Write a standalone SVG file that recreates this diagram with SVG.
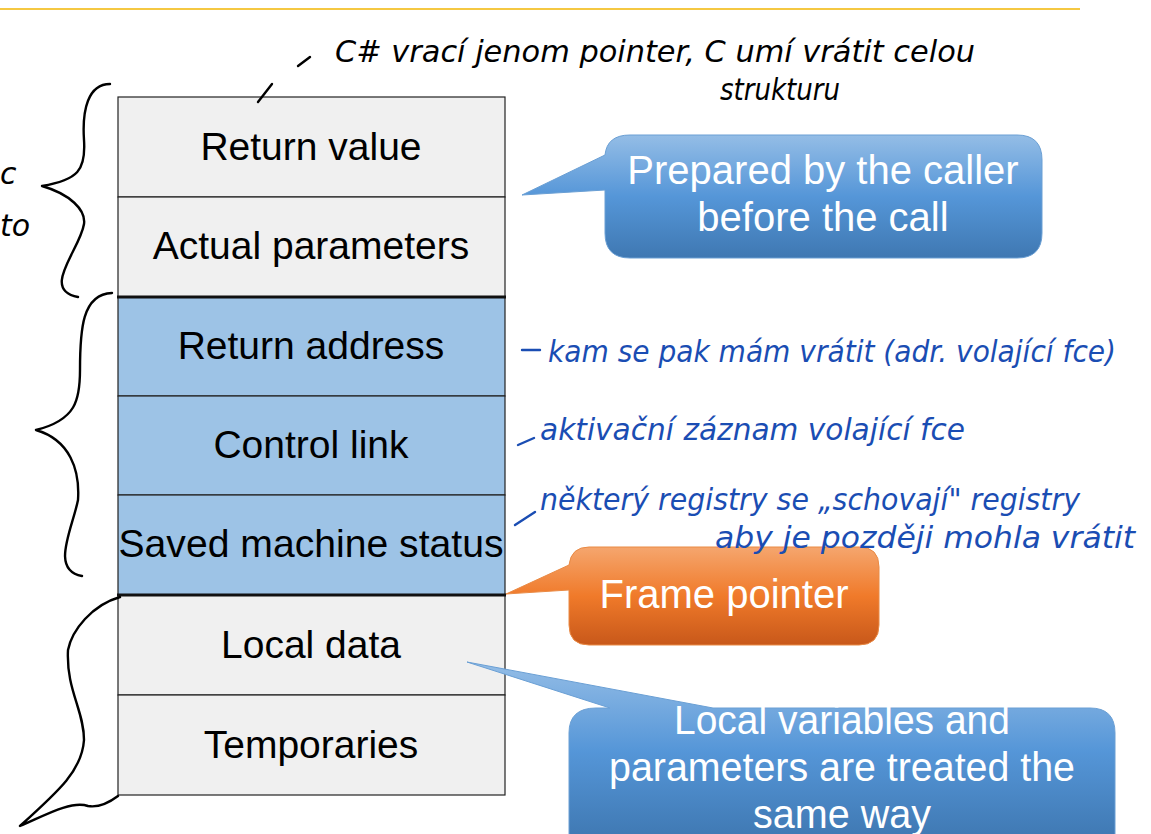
<svg xmlns="http://www.w3.org/2000/svg" width="1151" height="834" viewBox="0 0 1151 834">
  <defs>
    <linearGradient id="gBlue" x1="0" y1="0" x2="0" y2="1">
      <stop offset="0" stop-color="#94bde6"/>
      <stop offset="0.5" stop-color="#5596d8"/>
      <stop offset="1" stop-color="#3f78b2"/>
    </linearGradient>
    <linearGradient id="gOrange" x1="0" y1="0" x2="0" y2="1">
      <stop offset="0" stop-color="#f5a66e"/>
      <stop offset="0.5" stop-color="#f07a2a"/>
      <stop offset="1" stop-color="#c8581a"/>
    </linearGradient>
    <style>
      .cell { fill: #f0f0f0; stroke: #222; stroke-width: 1.2; }
      .cell.ctl { fill: #9dc3e6; }
      .sep { stroke: #111; stroke-width: 3; }
      .lbl { font-family: "Liberation Sans", Arial, sans-serif; font-size: 39px; fill: #000; text-anchor: middle; }
      .co { font-family: "Liberation Sans", Arial, sans-serif; font-size: 40px; fill: #fff; text-anchor: middle; }
      .blueCo { fill: url(#gBlue); stroke: #6a9fd4; stroke-width: 1; }
      .orangeCo { fill: url(#gOrange); stroke: #e98a45; stroke-width: 1; }
      .hand { font-family: "DejaVu Sans", sans-serif; font-style: italic; font-size: 30px; }
      .ink { fill: none; stroke: #000; stroke-width: 2.4; stroke-linecap: round; stroke-linejoin: round; }
      .bink { fill: none; stroke: #1a4db3; stroke-width: 2.4; stroke-linecap: round; }
    </style>
  </defs>

  <rect width="1151" height="834" fill="#fff"/>
  <!-- header rule -->
  <line x1="0" y1="9" x2="1080" y2="9" stroke="#f5c842" stroke-width="2"/>

  <!-- activation record stack -->
  <g id="stack">
    <g id="return-value"><rect class="cell" x="118" y="97" width="387" height="100"/><text class="lbl" x="311" y="160">Return value</text></g>
    <g id="actual-parameters"><rect class="cell" x="118" y="197" width="387" height="100"/><text class="lbl" x="311" y="259">Actual parameters</text></g>
    <g id="return-address"><rect class="cell ctl" x="118" y="297" width="387" height="99"/><text class="lbl" x="311" y="359">Return address</text></g>
    <g id="control-link"><rect class="cell ctl" x="118" y="396" width="387" height="99"/><text class="lbl" x="311" y="458">Control link</text></g>
    <g id="saved-machine-status"><rect class="cell ctl" x="118" y="495" width="387" height="100"/><text class="lbl" x="311" y="557" textLength="385" lengthAdjust="spacingAndGlyphs">Saved machine status</text></g>
    <g id="local-data"><rect class="cell" x="118" y="595" width="387" height="100"/><text class="lbl" x="311" y="658">Local data</text></g>
    <g id="temporaries"><rect class="cell" x="118" y="695" width="387" height="100"/><text class="lbl" x="311" y="758">Temporaries</text></g>
    <line class="sep" x1="117" y1="297" x2="506" y2="297"/>
    <line class="sep" x1="117" y1="595" x2="506" y2="595"/>
  </g>

  <!-- callouts -->
  <g id="callout-caller">
    <path class="blueCo" d="M630,135 H1017 Q1042,135 1042,160 V233 Q1042,258 1017,258 H630 Q605,258 605,233 V190 L522,195 L605,155 Q607,135 630,135 Z"/>
    <text class="co" x="823" y="184">Prepared by the caller</text>
    <text class="co" x="823" y="231">before the call</text>
  </g>
  <g id="callout-frame-pointer">
    <path class="orangeCo" d="M589,547 H859 Q879,547 879,567 V625 Q879,645 859,645 H589 Q569,645 569,625 V590 L506,594 L569,565 Q571,547 589,547 Z"/>
    <text class="co" x="724" y="608">Frame pointer</text>
  </g>
  <g id="callout-locals">
    <path class="blueCo" d="M596,708 H610 L467,662 L713,708 H1090 Q1115,708 1115,733 V840 H569 V733 Q569,708 596,708 Z"/>
    <text class="co" x="842" y="734" font-size="38" textLength="336" lengthAdjust="spacingAndGlyphs">Local variables and</text>
    <text class="co" x="842" y="781" font-size="38" textLength="466" lengthAdjust="spacingAndGlyphs">parameters are treated the</text>
    <text class="co" x="842" y="828" font-size="38" textLength="178" lengthAdjust="spacingAndGlyphs">same way</text>
  </g>

  <!-- handwritten notes -->
  <g id="notes">
    <path class="ink" d="M258,102 L272,84 M298,66 L310,57"/>
    <text class="hand" x="335" y="62" textLength="640" lengthAdjust="spacingAndGlyphs" fill="#000">C# vrací jenom pointer, C umí vrátit celou</text>
    <text class="hand" x="720" y="100" font-size="28" textLength="120" lengthAdjust="spacingAndGlyphs" fill="#000">strukturu</text>
    <text class="hand" x="0" y="184" fill="#000">c</text>
    <text class="hand" x="0" y="236" fill="#000">to</text>

    <path class="ink" d="M110,84 C88,84 82,110 84,140 C86,170 78,180 42,186 C70,194 86,210 84,224 C80,250 40,290 78,297"/>
    <path class="ink" d="M112,293 C82,294 80,330 80,370 C80,400 76,420 36,430 C70,440 80,470 78,500 C72,530 50,570 82,576"/>
    <path class="ink" d="M120,597 C92,605 72,630 68,650 C66,690 84,710 84,740 C82,770 60,790 20,826 C40,818 70,800 88,806 C100,808 110,802 118,796"/>

    <path class="bink" d="M522,350 L540,350"/>
    <text class="hand" x="548" y="362" font-size="26" textLength="568" lengthAdjust="spacingAndGlyphs" fill="#1a4db3">kam se pak mám vrátit (adr. volající fce)</text>
    <path class="bink" d="M518,445 L534,438"/>
    <text class="hand" x="540" y="440" textLength="425" lengthAdjust="spacingAndGlyphs" fill="#1a4db3">aktivační záznam volající fce</text>
    <path class="bink" d="M515,525 L535,512"/>
    <text class="hand" x="540" y="510" textLength="540" lengthAdjust="spacingAndGlyphs" fill="#1a4db3">některý registry se „schovají" registry</text>
    <text class="hand" x="715" y="548" textLength="420" lengthAdjust="spacingAndGlyphs" fill="#1a4db3">aby je později mohla vrátit</text>
  </g>
</svg>
